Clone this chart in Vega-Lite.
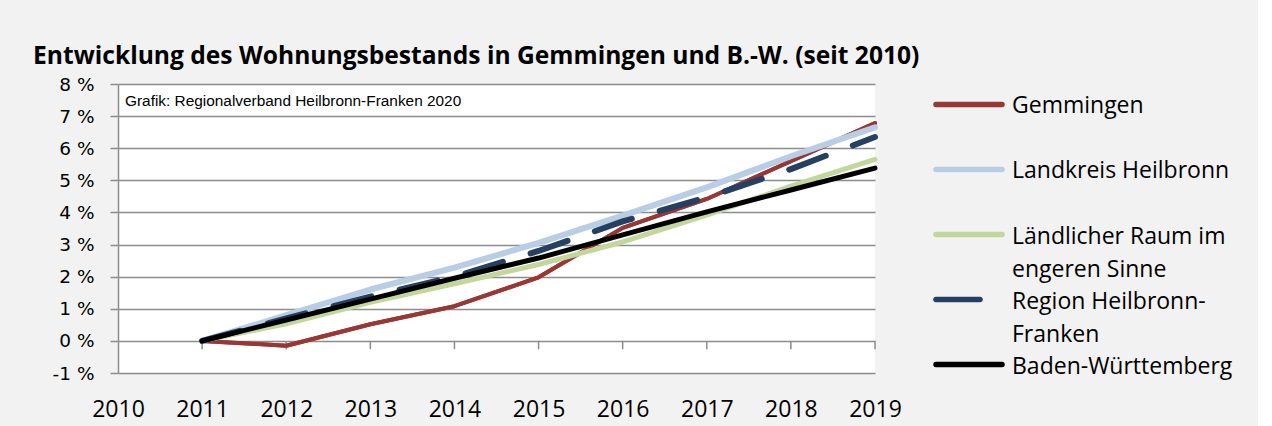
{
  "$schema": "https://vega.github.io/schema/vega-lite/v6.json",
  "background": "#f2f2f2",
  "padding": {"left": 33, "top": 43, "right": 5, "bottom": 5},
  "title": {"text": "Entwicklung des Wohnungsbestands in Gemmingen und B.-W. (seit 2010)", "anchor": "start", "frame": "bounds", "font": "Open Sans", "fontSize": 24.6, "fontWeight": "bold", "color": "#000000", "offset": 5.5, "dx": -19},
  "datasets": {
    "values": [
      {"year": 2011, "series": "Gemmingen", "value": 0},
      {"year": 2012, "series": "Gemmingen", "value": -0.15},
      {"year": 2013, "series": "Gemmingen", "value": 0.52},
      {"year": 2014, "series": "Gemmingen", "value": 1.08},
      {"year": 2015, "series": "Gemmingen", "value": 1.98},
      {"year": 2016, "series": "Gemmingen", "value": 3.52},
      {"year": 2017, "series": "Gemmingen", "value": 4.42},
      {"year": 2018, "series": "Gemmingen", "value": 5.6},
      {"year": 2019, "series": "Gemmingen", "value": 6.78},
      {"year": 2011, "series": "Landkreis Heilbronn", "value": 0},
      {"year": 2012, "series": "Landkreis Heilbronn", "value": 0.8},
      {"year": 2013, "series": "Landkreis Heilbronn", "value": 1.6},
      {"year": 2014, "series": "Landkreis Heilbronn", "value": 2.28},
      {"year": 2015, "series": "Landkreis Heilbronn", "value": 3.05},
      {"year": 2016, "series": "Landkreis Heilbronn", "value": 3.9},
      {"year": 2017, "series": "Landkreis Heilbronn", "value": 4.78},
      {"year": 2018, "series": "Landkreis Heilbronn", "value": 5.75},
      {"year": 2019, "series": "Landkreis Heilbronn", "value": 6.65},
      {"year": 2011, "series": "Ländlicher Raum im engeren Sinne", "value": 0},
      {"year": 2012, "series": "Ländlicher Raum im engeren Sinne", "value": 0.53},
      {"year": 2013, "series": "Ländlicher Raum im engeren Sinne", "value": 1.2},
      {"year": 2014, "series": "Ländlicher Raum im engeren Sinne", "value": 1.78},
      {"year": 2015, "series": "Ländlicher Raum im engeren Sinne", "value": 2.38},
      {"year": 2016, "series": "Ländlicher Raum im engeren Sinne", "value": 3.08},
      {"year": 2017, "series": "Ländlicher Raum im engeren Sinne", "value": 3.92},
      {"year": 2018, "series": "Ländlicher Raum im engeren Sinne", "value": 4.82},
      {"year": 2019, "series": "Ländlicher Raum im engeren Sinne", "value": 5.65},
      {"year": 2011, "series": "Region Heilbronn-Franken", "value": 0},
      {"year": 2012, "series": "Region Heilbronn-Franken", "value": 0.7},
      {"year": 2013, "series": "Region Heilbronn-Franken", "value": 1.38},
      {"year": 2014, "series": "Region Heilbronn-Franken", "value": 2.0},
      {"year": 2015, "series": "Region Heilbronn-Franken", "value": 2.8},
      {"year": 2016, "series": "Region Heilbronn-Franken", "value": 3.72},
      {"year": 2017, "series": "Region Heilbronn-Franken", "value": 4.47},
      {"year": 2018, "series": "Region Heilbronn-Franken", "value": 5.35},
      {"year": 2019, "series": "Region Heilbronn-Franken", "value": 6.35},
      {"year": 2011, "series": "Baden-Württemberg", "value": 0},
      {"year": 2012, "series": "Baden-Württemberg", "value": 0.65},
      {"year": 2013, "series": "Baden-Württemberg", "value": 1.3},
      {"year": 2014, "series": "Baden-Württemberg", "value": 1.95},
      {"year": 2015, "series": "Baden-Württemberg", "value": 2.58},
      {"year": 2016, "series": "Baden-Württemberg", "value": 3.3},
      {"year": 2017, "series": "Baden-Württemberg", "value": 4.02},
      {"year": 2018, "series": "Baden-Württemberg", "value": 4.7},
      {"year": 2019, "series": "Baden-Württemberg", "value": 5.38}
    ],
    "legend": [
      {"series": "Gemmingen", "label": "Gemmingen"},
      {"series": "Landkreis Heilbronn", "label": "Landkreis Heilbronn"},
      {"series": "Ländlicher Raum im engeren Sinne", "label": "Ländlicher Raum im\nengeren Sinne"},
      {"series": "Region Heilbronn-Franken", "label": "Region Heilbronn-\nFranken"},
      {"series": "Baden-Württemberg", "label": "Baden-Württemberg"}
    ],
    "note": [
      {"note": "Grafik: Regionalverband Heilbronn-Franken 2020"}
    ]
  },
  "spacing": 31,
  "config": {"view": {"stroke": null}},
  "hconcat": [
    {
      "width": 757,
      "height": 289,
      "view": {"fill": "#ffffff", "stroke": null},
      "data": {"name": "values"},
      "layer": [
        {
          "transform": [{"filter": "datum.series == 'Gemmingen'"}],
          "mark": {"type": "line", "color": "#993735", "strokeWidth": 4, "strokeCap": "round", "strokeJoin": "round"},
          "encoding": {
            "x": {"field": "year", "type": "quantitative",
              "scale": {"domain": [2010, 2019], "nice": false, "zero": false},
              "axis": {"values": [2010, 2011, 2012, 2013, 2014, 2015, 2016, 2017, 2018, 2019], "format": "d", "grid": false, "domain": false, "ticks": false, "labelFont": "Open Sans", "labelFontSize": 23, "labelColor": "#000000", "labelBaseline": "alphabetic", "labelPadding": 43, "labelFlush": false, "labelOverlap": false, "title": null}},
            "y": {"field": "value", "type": "quantitative",
              "scale": {"domain": [-1, 8], "nice": false, "zero": false},
              "axis": {"values": [-1, 0, 1, 2, 3, 4, 5, 6, 7, 8], "tickCount": 10, "labelExpr": "datum.value + ' %'", "grid": true, "gridColor": "#8c8c8c", "gridWidth": 1.5, "domain": true, "domainColor": "#8c8c8c", "domainWidth": 1.5, "ticks": true, "tickColor": "#8c8c8c", "tickSize": 8, "tickWidth": 1.5, "labelFont": "DejaVu Sans", "labelFontSize": 18.5, "labelColor": "#000000", "labelPadding": 16, "labelFlush": false, "labelOverlap": false, "title": null}}
          }
        },
        {
          "transform": [{"filter": "datum.series == 'Gemmingen'"}],
          "mark": {"type": "rule", "color": "#8c8c8c", "strokeWidth": 1.5},
          "encoding": {
            "x": {"field": "year", "type": "quantitative"},
            "y": {"datum": 0},
            "y2": {"datum": -0.26}
          }
        },
        {
          "data": {"name": "note"},
          "mark": {"type": "text", "align": "left", "baseline": "middle", "font": "Liberation Sans", "fontSize": 15.4, "color": "#000000", "dx": 7},
          "encoding": {
            "x": {"datum": 2010},
            "y": {"datum": 7.47},
            "text": {"field": "note"}
          }
        },
        {
          "transform": [{"filter": "datum.series == 'Gemmingen'"}],
          "mark": {"type": "line", "color": "#993735", "strokeWidth": 4, "strokeCap": "round", "strokeJoin": "round"},
          "encoding": {"x": {"field": "year", "type": "quantitative"}, "y": {"field": "value", "type": "quantitative"}}
        },
        {
          "transform": [{"filter": "datum.series == 'Landkreis Heilbronn'"}],
          "mark": {"type": "line", "color": "#b9cde5", "strokeWidth": 6, "strokeCap": "round", "strokeJoin": "round"},
          "encoding": {"x": {"field": "year", "type": "quantitative"}, "y": {"field": "value", "type": "quantitative"}}
        },
        {
          "transform": [{"filter": "datum.series == 'Ländlicher Raum im engeren Sinne'"}],
          "mark": {"type": "line", "color": "#c3d69b", "strokeWidth": 5, "strokeCap": "round", "strokeJoin": "round"},
          "encoding": {"x": {"field": "year", "type": "quantitative"}, "y": {"field": "value", "type": "quantitative"}}
        },
        {
          "transform": [{"filter": "datum.series == 'Region Heilbronn-Franken'"}],
          "mark": {"type": "line", "color": "#254061", "strokeWidth": 6, "strokeCap": "round", "strokeJoin": "round", "strokeDash": [39, 29]},
          "encoding": {"x": {"field": "year", "type": "quantitative"}, "y": {"field": "value", "type": "quantitative"}}
        },
        {
          "transform": [{"filter": "datum.series == 'Baden-Württemberg'"}],
          "mark": {"type": "line", "color": "#000000", "strokeWidth": 5, "strokeCap": "round", "strokeJoin": "round"},
          "encoding": {"x": {"field": "year", "type": "quantitative"}, "y": {"field": "value", "type": "quantitative"}}
        }
      ]
    },
    {
      "width": 320,
      "height": 289,
      "data": {"name": "legend"},
      "layer": [
        {
          "mark": {"type": "rule", "strokeCap": "round", "strokeWidth": 5.5},
          "encoding": {
            "y": {"field": "series", "type": "nominal",
              "scale": {"type": "point", "domain": ["Gemmingen", "Landkreis Heilbronn", "Ländlicher Raum im engeren Sinne", "Region Heilbronn-Franken", "Baden-Württemberg"], "padding": 0.223, "align": 0.707},
              "axis": null},
            "x": {"datum": 3, "scale": {"domain": [0, 320], "nice": false, "zero": false}, "axis": null},
            "x2": {"datum": 69},
            "color": {"field": "series", "type": "nominal",
              "scale": {"domain": ["Gemmingen", "Landkreis Heilbronn", "Ländlicher Raum im engeren Sinne", "Region Heilbronn-Franken", "Baden-Württemberg"], "range": ["#993735", "#b9cde5", "#c3d69b", "#254061", "#000000"]},
              "legend": null},
            "strokeDash": {"field": "series", "type": "nominal",
              "scale": {"domain": ["Gemmingen", "Landkreis Heilbronn", "Ländlicher Raum im engeren Sinne", "Region Heilbronn-Franken", "Baden-Württemberg"], "range": [[1, 0], [1, 0], [1, 0], [44, 40], [1, 0]]},
              "legend": null}
          }
        },
        {
          "mark": {"type": "text", "align": "left", "baseline": "alphabetic", "font": "Open Sans", "fontSize": 23, "lineBreak": "\n", "lineHeight": 33, "dy": 9, "color": "#000000"},
          "encoding": {
            "y": {"field": "series", "type": "nominal"},
            "x": {"datum": 79},
            "text": {"field": "label"}
          }
        }
      ]
    }
  ]
}
